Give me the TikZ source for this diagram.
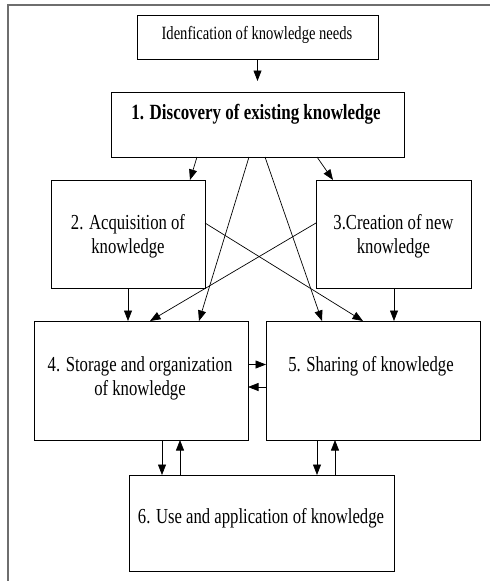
\documentclass[tikz,border=0pt]{standalone}
\usepackage{fontspec}
\setmainfont{Liberation Serif}[FakeStretch=0.78]
\usetikzlibrary{arrows.meta}
\definecolor{framegray}{RGB}{110,110,110}
\begin{document}
\begin{tikzpicture}[x=1pt,y=-1pt,
  box/.style={draw=black,line width=0.8pt,inner sep=0pt,outer sep=0pt},
  txt/.style={inner sep=0pt,align=center,font=\fontsize{21.4}{24}\selectfont},
  arr/.style={line width=0.7pt,-{Triangle[length=10.5pt,width=8pt]}},
  frameline/.style={draw=framegray,line width=1.2pt}]
\useasboundingbox (0,0) rectangle (490,581);
\draw[frameline] (8,581) -- (8,5) -- (490,5);
% boxes
\node[box,minimum width=241pt,minimum height=44pt] (t) at (257.5,37) {};
\node[box,minimum width=293pt,minimum height=65pt] (b1) at (257.5,124.5) {};
\node[box,minimum width=154pt,minimum height=108pt] (b2) at (128,234) {};
\node[box,minimum width=155pt,minimum height=108pt] (b3) at (393.5,234) {};
\node[box,minimum width=214pt,minimum height=119pt] (b4) at (141,380.5) {};
\node[box,minimum width=214pt,minimum height=119pt] (b5) at (373,380.5) {};
\node[box,minimum width=265pt,minimum height=96pt] (b6) at (261.5,523) {};
% texts
\node[txt,font=\fontsize{18.7}{22}\selectfont] (tt) at (257,35) {Idenfication of knowledge needs};
\node[txt,font=\fontsize{21.7}{24}\selectfont\bfseries] (t1) at (256,114.5) {1. Discovery of existing knowledge};
\node[txt] (t2) at (128,236) {2. Acquisition of\\knowledge};
\node[txt] (t3) at (393.5,236) {3.Creation of new\\knowledge};
\node[txt] (t4) at (140,378) {4. Storage and organization\\of knowledge};
\node[txt] (t5) at (371,366) {5. Sharing of knowledge};
\node[txt] (t6) at (261,518) {6. Use and application of knowledge};
% connectors
\draw[arr] (t.south) -- ([yshift=11pt]b1.north);
\draw[arr] ([xshift=-60.5pt]b1.south) -- ([xshift=62pt]b2.north);
\draw[arr] ([xshift=59.5pt]b1.south) -- ([xshift=-60.5pt]b3.north);
\draw[arr] ([xshift=-8.5pt]b1.south) -- ([xshift=58pt]b4.north);
\draw[arr] ([xshift=7.5pt]b1.south) -- ([xshift=-51pt]b5.north);
\draw[arr] ([yshift=11pt]b2.east) -- ([xshift=-10pt]b5.north);
\draw[arr] ([yshift=11pt]b3.west) -- ([xshift=9pt]b4.north);
\draw[arr] (b2.south) -- ([xshift=-13pt]b4.north);
\draw[arr] ([xshift=0.5pt]b3.south) -- ([xshift=21pt]b5.north);
\draw[arr] ([yshift=16pt]b4.east) -- ([yshift=16pt]b5.west);
\draw[arr] ([yshift=-6.5pt]b5.west) -- ([yshift=-6.5pt]b4.east);
\draw[arr] ([xshift=21pt]b4.south) -- ([xshift=-99.5pt]b6.north);
\draw[arr] ([xshift=-81.5pt]b6.north) -- ([xshift=39pt]b4.south);
\draw[arr] ([xshift=-56pt]b5.south) -- ([xshift=55.5pt]b6.north);
\draw[arr] ([xshift=73.5pt]b6.north) -- ([xshift=-38pt]b5.south);
\end{tikzpicture}
\end{document}
